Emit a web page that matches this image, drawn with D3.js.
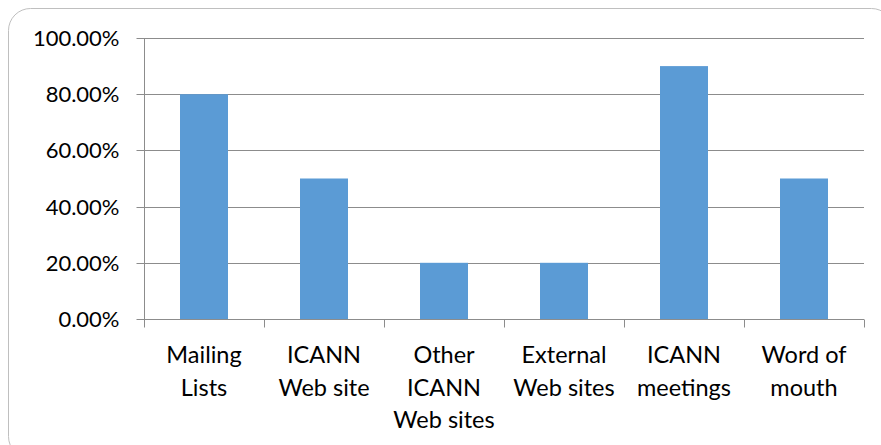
<!DOCTYPE html>
<html><head><meta charset="utf-8">
<script src="https://cdn.jsdelivr.net/npm/d3@7"></script>
<style>body{margin:0;background:#fff;} svg{display:block;} text{font-family:Lato, "Open Sans", sans-serif;fill:#000;}</style>
</head><body>
<svg id="c" width="881" height="445"></svg>
<script>
const categories = [["Mailing","Lists"],["ICANN","Web site"],["Other","ICANN","Web sites"],["External","Web sites"],["ICANN","meetings"],["Word of","mouth"]];
const values = [0.80, 0.50, 0.20, 0.20, 0.90, 0.50];
const yTicks = [0, 0.2, 0.4, 0.6, 0.8, 1.0];

const svg = d3.select("#c");
svg.append("rect").attr("x",8.5).attr("y",8.5).attr("width",885).attr("height",450)
  .attr("rx",22).attr("fill","#fff").attr("stroke","#bfbfbf").attr("stroke-width",1);

const pL = 144, pR = 864, pT = 38, pB = 319;
const x = d3.scaleBand().domain(d3.range(categories.length)).range([pL,pR]).paddingInner(0.6).paddingOuter(0.3);
const y = d3.scaleLinear().domain([0,1]).range([pB,pT]);

// gridlines
svg.append("g").selectAll("line").data(yTicks.filter(d=>d>0)).join("line")
  .attr("x1",pL).attr("x2",pR).attr("y1",d=>Math.round(y(d))+0.5).attr("y2",d=>Math.round(y(d))+0.5)
  .attr("stroke","#8c8c8c").attr("stroke-width",1);

// bars
svg.append("g").selectAll("rect").data(values).join("rect")
  .attr("x",(d,i)=>x(i)).attr("width",x.bandwidth())
  .attr("y",d=>y(d)).attr("height",d=>y(0)-y(d)).attr("fill","#5b9bd5");

// y axis
const ya = svg.append("g").attr("transform",`translate(${pL+0.5},0)`)
  .call(d3.axisLeft(y).tickValues(yTicks).tickFormat(d=>(d*100).toFixed(2)+"%").tickSize(8).tickPadding(17));
ya.select(".domain").attr("stroke","#8c8c8c").attr("d",`M0,${pT}V${pB}`);
ya.selectAll(".tick line").attr("stroke","#8c8c8c");
ya.selectAll(".tick").attr("transform",d=>`translate(0,${Math.round(y(d))+0.5})`);
ya.selectAll("text").style("font-size","22px").style("font-family","Lato, sans-serif").attr("fill","#000").attr("dy","0.36em");

// x axis
const xa = svg.append("g").attr("transform",`translate(0,${pB+0.5})`);
xa.append("line").attr("x1",pL).attr("x2",pR).attr("stroke","#8c8c8c");
const step = x.step();
xa.selectAll("line.t").data(d3.range(categories.length+1)).join("line").attr("class","t")
  .attr("x1",i=>pL+i*step+0.5).attr("x2",i=>pL+i*step+0.5).attr("y1",0).attr("y2",8).attr("stroke","#8c8c8c");
const lab = svg.append("g").selectAll("text").data(categories).join("text")
  .attr("text-anchor","middle").style("font-size","23.5px")
  .attr("transform",(d,i)=>`translate(${x(i)+x.bandwidth()/2},363)`);
lab.selectAll("tspan").data(d=>d).join("tspan").attr("x",0).attr("dy",(d,j)=>j===0?0:32.5).text(d=>d);
</script>
</body></html>
